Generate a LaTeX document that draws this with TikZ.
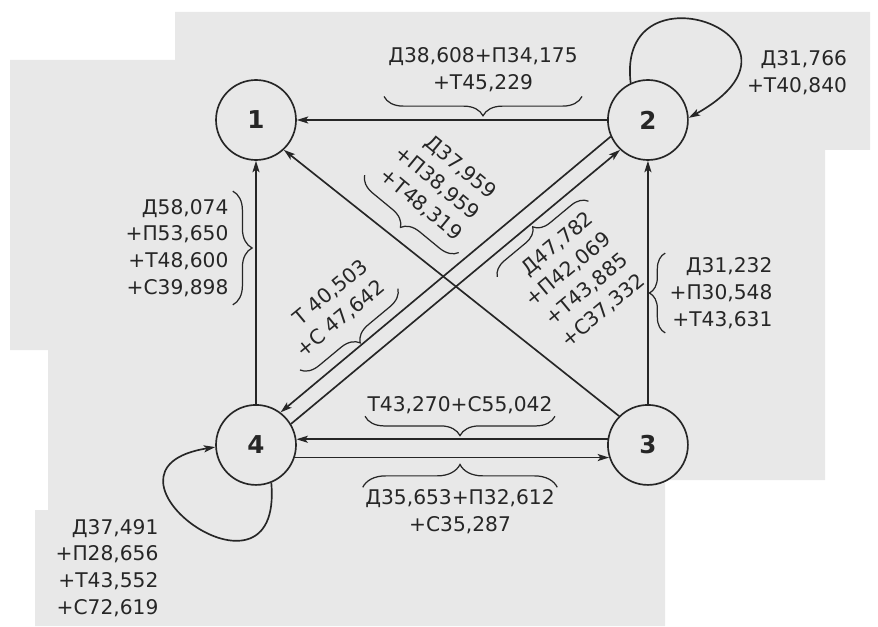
\documentclass[tikz,border=0pt]{standalone}
\usepackage{fontspec}
\setmainfont{DejaVu Sans}
\usetikzlibrary{arrows.meta,automata,decorations.pathreplacing}

\begin{document}
\begin{tikzpicture}[x=0.02cm,y=0.02cm,>={Stealth[length=6.5pt,width=4pt,inset=1.5pt]},line width=0.95pt,color=black!85,node distance=7.84cm,
  every state/.style={draw,minimum size=1.6cm,inner sep=0pt,font=\fontsize{14}{14}\selectfont\bfseries},
  lbl/.style={font=\fontsize{11.5}{15.3}\selectfont,inner sep=2pt},
  brc/.style={decorate,decoration={brace,amplitude=#1},line width=0.7pt}]

\useasboundingbox (0,0) rectangle (878,626);
% paper
\fill[black!9] (175,614) -- (870,614) -- (870,476) -- (825,476) -- (825,146) -- (665,146) -- (665,0)
  -- (35,0) -- (35,116) -- (48,116) -- (48,276) -- (10,276) -- (10,566) -- (175,566) -- cycle;

\node[state]   (n1) at (256,506)      {1};
 \node[state]  (n2) [right of=n1]     {2};
	\node[state] (n4) [below of=n1,node distance=6.5cm] {4};
	\node[state] (n3) [right of=n4]     {3};

% labels
\node[lbl,align=center] (l21) at (483,556) {Д38,608+П34,175\\+Т45,229};
\node[lbl,align=right]  (l22) at (797,553) {Д31,766\\+Т40,840};
\node[lbl,align=right,inner ysep=4pt] (l41) at (177,378) {Д58,074\\+П53,650\\+Т48,600\\+С39,898};
\node[lbl,align=right]  (l32) at (721,333) {Д31,232\\+П30,548\\+Т43,631};
\node[lbl,align=center,inner sep=1pt] (l34) at (460,221) {Т43,270+С55,042};
\node[lbl,align=center,inner sep=1pt] (l43) at (460,114) {Д35,653+П32,612\\+С35,287};
\node[lbl,align=right]  (l44) at (107,58)  {Д37,491\\+П28,656\\+Т43,552\\+С72,619};
\node[lbl,align=right,rotate=-39.5,inner xsep=5pt] (l31) at (437,443) {Д37,959\\+П38,959\\+Т48,319};
\node[lbl,align=right,rotate=39.7,inner xsep=5pt]  (l24) at (332,317) {Т 40,503\\+С 47,642};
\node[lbl,align=right,rotate=39.7,inner xsep=4pt]  (l42) at (577,346) {Д47,782\\+П42,069\\+Т43,885\\+С37,332};

\path[->] (n2)     edge (n1)
          (n3.135) edge (n1.313)
          (n2.204) edge (n4.53)
          (n4.31)  edge (n2.227)
          (n4)     edge (n1)
          (n3)     edge (n2)
          (n3.172) edge (n4.8)
          (n4.-18) edge (n3.198);

% loops
\draw[->] (n2.115) .. controls +(97:125) and +(29:165) .. (n2.3);
\draw[->] (n4.292) .. controls +(-85:140) and +(189:142) .. (n4.183);

% braces
\draw[brc=11pt] (l21.south east) -- (l21.south west);
\draw[brc=11pt] (l41.north east) -- (l41.south east);
\draw[brc=9pt]  (l32.south west) -- (l32.north west);
\draw[brc=11pt] (l34.south east) -- (l34.south west);
\draw[brc=13pt] (l43.north west) -- (l43.north east);
\draw[brc=10pt] (l31.south east) -- (l31.south west);
\draw[brc=10pt] (l24.south east) -- (l24.south west);
\draw[brc=9pt]  (l42.north west) -- (l42.north east);

\end{tikzpicture}
\end{document}
